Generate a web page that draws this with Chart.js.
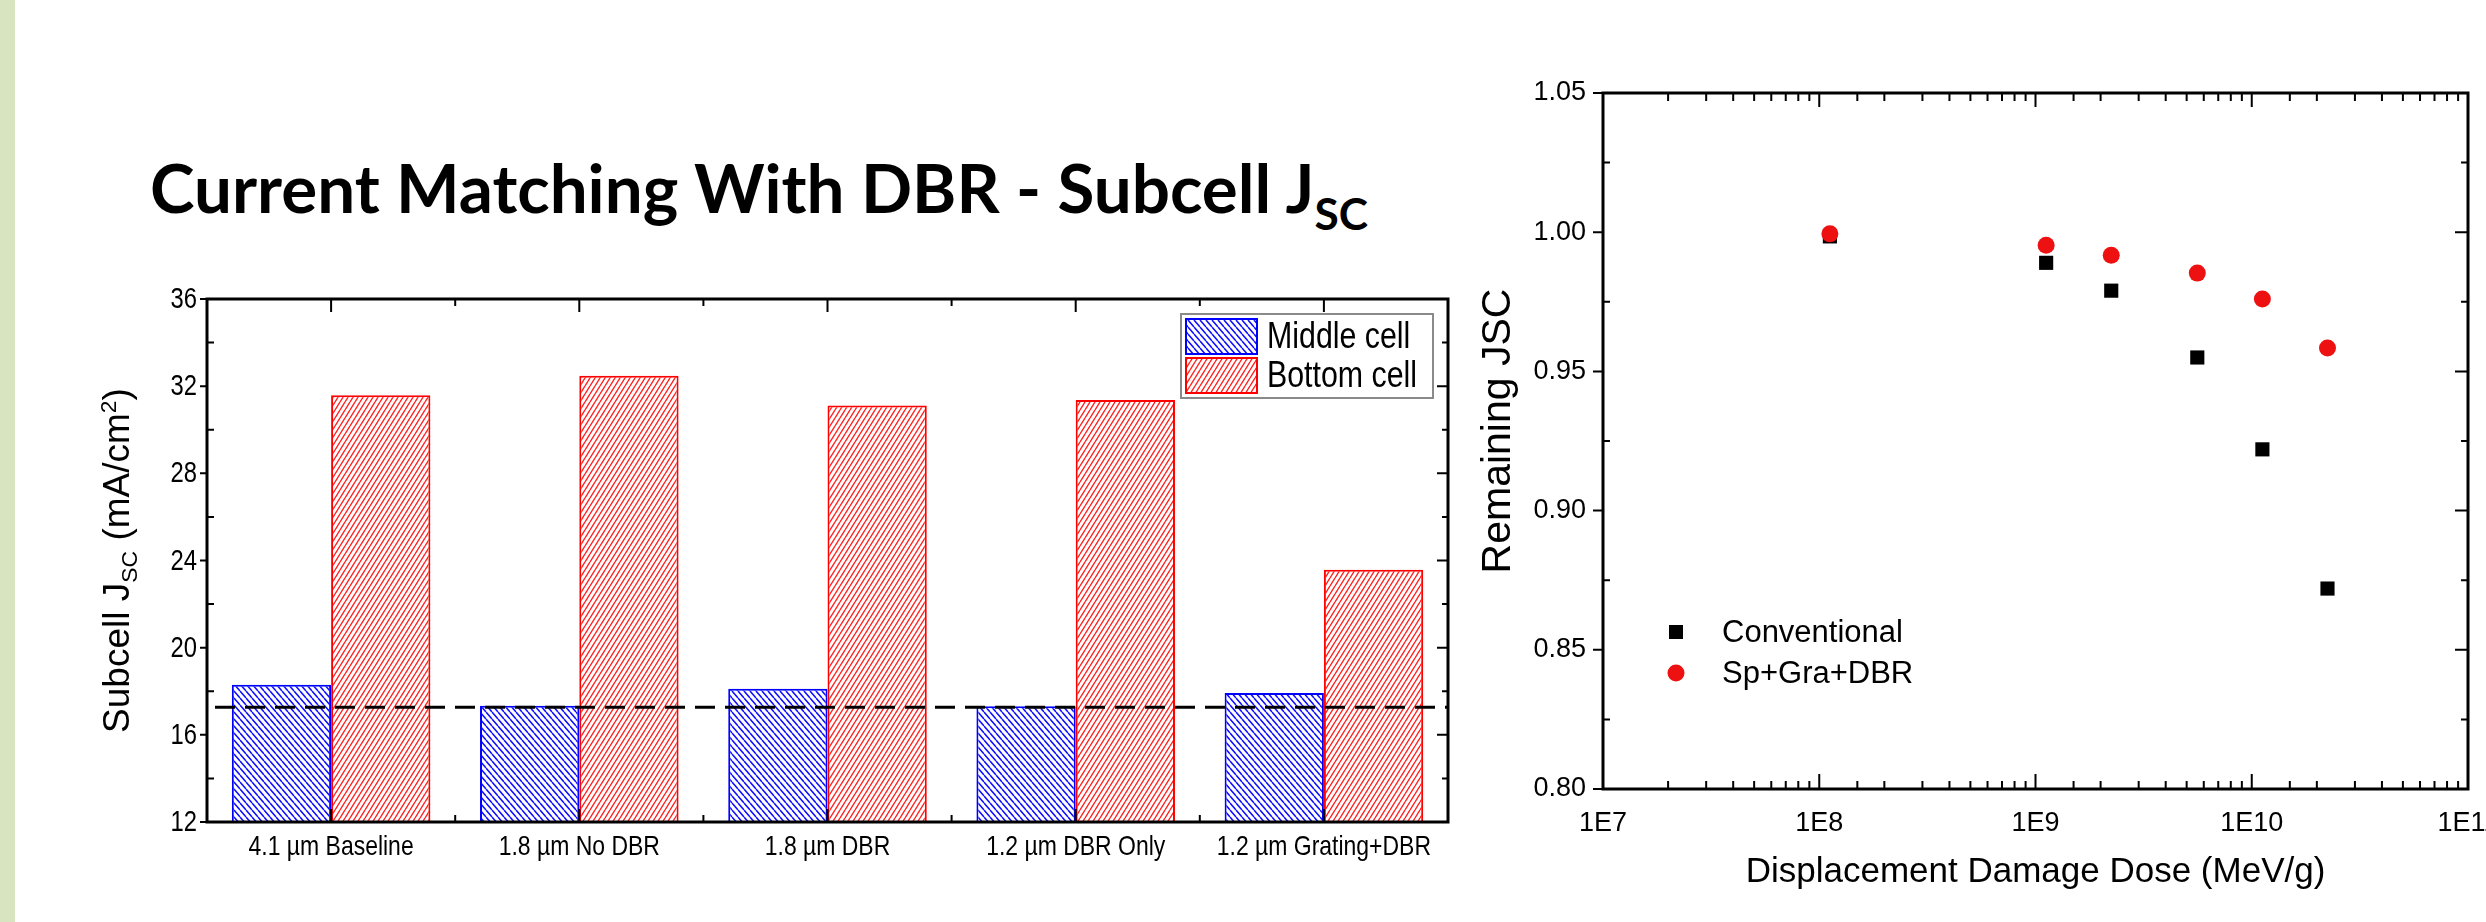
<!DOCTYPE html>
<html>
<head>
<meta charset="utf-8">
<script src="https://cdn.jsdelivr.net/npm/chart.js@4.4.0/dist/chart.umd.min.js"></script>
<style>
html,body{margin:0;padding:0;background:#fff;width:2486px;height:922px;overflow:hidden;position:relative;}
#strip{position:absolute;left:0;top:0;width:15px;height:922px;background:#d8e4bf;}
#title{position:absolute;left:150px;top:154px;font-family:Lato,'Open Sans',sans-serif;font-weight:700;font-size:67px;line-height:67px;white-space:nowrap;transform-origin:0 0;color:#000;}
#title .sub{font-size:44px;position:relative;top:17px;}
#w1{position:absolute;left:0;top:250px;width:1480px;height:672px;}
#w2{position:absolute;left:1420px;top:0;width:1106px;height:922px;}
canvas{display:block;}
</style>
</head>
<body>
<div id="strip"></div>
<div id="title">Current Matching With DBR - Subcell J<span class="sub">SC</span></div>
<div id="w1"><canvas id="c1" width="1480" height="672" style="width:1480px;height:672px"></canvas></div>
<div id="w2"><canvas id="c2" width="1106" height="922" style="width:1106px;height:922px"></canvas></div>
<script>
// ---------- data: left chart ----------
const categories = ['4.1 µm Baseline', '1.8 µm No DBR', '1.8 µm DBR', '1.2 µm DBR Only', '1.2 µm Grating+DBR'];
const middleCell = [18.30, 17.33, 18.12, 17.31, 17.92];
const bottomCell = [31.58, 32.48, 31.11, 31.36, 23.58];
const matchLevel = 17.27;
const jscMin = 12, jscMax = 36, jscStep = 4;

// ---------- data: right chart ----------
const doses = [1.12e8, 1.12e9, 2.24e9, 5.6e9, 1.12e10, 2.24e10];
const conventional = [0.9985, 0.989, 0.979, 0.955, 0.922, 0.872];
const spGraDbr = [0.9994, 0.9953, 0.9917, 0.9853, 0.976, 0.9584];
const doseMin = 1e7, doseMax = 1e11;
const remMin = 0.80, remMax = 1.05, remStep = 0.05;

const F = "'Liberation Sans', Arial, sans-serif";
const COND = 0.82; // horizontal condensing of left-chart text

// title width fit
(function(){
  const t = document.getElementById('title');
  const w = t.getBoundingClientRect().width;
  t.style.transform = 'scaleX(' + (1218 / w) + ')';
})();

function hatch(ctx, color, dir, p, q, lw) {
  const c = document.createElement('canvas');
  c.width = p; c.height = q;
  const g = c.getContext('2d');
  g.fillStyle = '#fff'; g.fillRect(0, 0, p, q);
  g.strokeStyle = color; g.lineWidth = lw;
  g.beginPath();
  for (let k = -1; k <= 1; k++) {
    if (dir === 'back') { g.moveTo(k * p, 0); g.lineTo(k * p + p, q); }
    else { g.moveTo(k * p, q); g.lineTo(k * p + p, 0); }
  }
  g.stroke();
  return ctx.createPattern(c, 'repeat');
}
function condText(ctx, text, x, y, size, align) {
  ctx.save();
  ctx.translate(x, y); ctx.scale(COND, 1);
  ctx.font = size + 'px ' + F; ctx.textAlign = align; ctx.textBaseline = 'middle'; ctx.fillStyle = '#000';
  ctx.fillText(text, 0, 0);
  ctx.restore();
}

const ctx1 = document.getElementById('c1').getContext('2d');
const blueHatch = hatch(ctx1, '#1010ff', 'back', 6, 7, 1.5);
const redHatch = hatch(ctx1, '#ff2020', 'fwd', 5, 8, 1.4);

const decor1 = {
  id: 'decor1',
  afterDatasetsDraw(chart) {
    const {ctx, chartArea: a, scales: {x, y}} = chart;
    ctx.save();
    // dashed current-matching line
    const yy = y.getPixelForValue(matchLevel);
    ctx.strokeStyle = '#000'; ctx.lineWidth = 3; ctx.setLineDash([20, 10]);
    ctx.beginPath(); ctx.moveTo(a.left + 8, yy); ctx.lineTo(a.right, yy); ctx.stroke();
    ctx.setLineDash([]);
    // ticks
    ctx.lineWidth = 2;
    ctx.beginPath();
    for (let v = jscMin; v <= jscMax + 1e-9; v += jscStep / 2) {
      const py = y.getPixelForValue(v);
      const major = Math.abs(((v - jscMin) / jscStep) - Math.round((v - jscMin) / jscStep)) < 1e-6;
      if (major) { ctx.moveTo(a.left - 7, py); ctx.lineTo(a.left, py); }
      else { ctx.moveTo(a.left, py); ctx.lineTo(a.left + 7, py); }
      const L = major ? 11 : 6;
      ctx.moveTo(a.right - L, py); ctx.lineTo(a.right, py);
    }
    for (let i = 0; i < categories.length; i++) {
      const px = x.getPixelForValue(i);
      ctx.moveTo(px, a.top); ctx.lineTo(px, a.top + 13);
      ctx.moveTo(px, a.bottom); ctx.lineTo(px, a.bottom - 13);
      if (i > 0) {
        const pb = (x.getPixelForValue(i - 1) + px) / 2;
        ctx.moveTo(pb, a.top); ctx.lineTo(pb, a.top + 7);
        ctx.moveTo(pb, a.bottom); ctx.lineTo(pb, a.bottom - 7);
      }
    }
    ctx.stroke();
    // frame
    ctx.lineWidth = 3; ctx.strokeStyle = '#000';
    ctx.strokeRect(a.left, a.top, a.right - a.left, a.bottom - a.top);
    // tick labels (condensed, from the library's scales)
    y.ticks.forEach(t => condText(ctx, String(t.label), a.left - 10, y.getPixelForValue(t.value) + 1, 29, 'right'));
    x.ticks.forEach(t => condText(ctx, String(t.label), x.getPixelForValue(t.value), a.bottom + 25, 28, 'center'));
    // legend
    const ds = chart.data.datasets;
    const bw = 252, bh = 84;
    const bx = a.right - 15 - bw, by = a.top + 15;
    ctx.fillStyle = '#fff'; ctx.fillRect(bx, by, bw, bh);
    ctx.strokeStyle = '#8a8a8a'; ctx.lineWidth = 2; ctx.strokeRect(bx, by, bw, bh);
    ds.forEach((d, i) => {
      const sx = bx + 5, sy = by + 5 + i * 39, sw = 71, sh = 35;
      ctx.fillStyle = d.backgroundColor; ctx.fillRect(sx, sy, sw, sh);
      ctx.strokeStyle = d.borderColor; ctx.lineWidth = 2; ctx.strokeRect(sx, sy, sw, sh);
      ctx.save();
      ctx.translate(bx + 86, sy + sh / 2 + 1); ctx.scale(COND, 1);
      ctx.fillStyle = '#000'; ctx.font = '37px ' + F; ctx.textBaseline = 'middle'; ctx.textAlign = 'left';
      ctx.fillText(d.label, 0, 0);
      ctx.restore();
    });
    // y axis title with sub/superscript
    ctx.save();
    ctx.translate(116, (a.top + a.bottom) / 2);
    ctx.rotate(-Math.PI / 2);
    const fs = 37;
    const parts = [['Subcell J', fs, 0], ['SC', fs * 0.62, 8], [' (mA/cm', fs, 0], ['2', fs * 0.62, -13], [')', fs, 0]];
    let total = 0;
    parts.forEach(p => { ctx.font = p[1] + 'px ' + F; total += ctx.measureText(p[0]).width; });
    let cx = -total / 2;
    ctx.fillStyle = '#000'; ctx.textBaseline = 'alphabetic'; ctx.textAlign = 'left';
    parts.forEach(p => { ctx.font = p[1] + 'px ' + F; ctx.fillText(p[0], cx, fs * 0.36 + p[2]); cx += ctx.measureText(p[0]).width; });
    ctx.restore();
    ctx.restore();
  }
};

new Chart(ctx1, {
  type: 'bar',
  data: {
    labels: categories,
    datasets: [
      {label: 'Middle cell', data: middleCell, backgroundColor: blueHatch, borderColor: '#0000ff', borderWidth: 2},
      {label: 'Bottom cell', data: bottomCell, backgroundColor: redHatch, borderColor: '#ff0000', borderWidth: 2}
    ]
  },
  options: {
    responsive: false, animation: false, events: [],
    layout: {padding: {top: 49, right: 32, left: 0, bottom: 0}},
    datasets: {bar: {categoryPercentage: 0.8, barPercentage: 1.0}},
    plugins: {legend: {display: false}, tooltip: {enabled: false}},
    scales: {
      x: {
        grid: {display: false, drawTicks: false}, border: {display: false},
        ticks: {display: false, autoSkip: false},
        afterFit(s) { s.height = 100; }
      },
      y: {
        min: jscMin, max: jscMax,
        grid: {display: false, drawTicks: false}, border: {display: false},
        ticks: {display: false, stepSize: jscStep},
        afterFit(s) { s.width = 207; }
      }
    }
  },
  plugins: [decor1]
});

// ---------- right chart ----------
const ctx2 = document.getElementById('c2').getContext('2d');
function isDecade(v) {
  const e = Math.round(Math.log10(v));
  return Math.abs(v / Math.pow(10, e) - 1) < 1e-6;
}
const decor2 = {
  id: 'decor2',
  afterDatasetsDraw(chart) {
    const {ctx, chartArea: a, scales: {x, y}} = chart;
    ctx.save();
    ctx.strokeStyle = '#000'; ctx.lineWidth = 2;
    ctx.beginPath();
    x.ticks.forEach(t => {
      const px = x.getPixelForValue(t.value);
      const L1 = isDecade(t.value) ? 15 : 8;
      const L2 = isDecade(t.value) ? 14 : 8;
      ctx.moveTo(px, a.bottom); ctx.lineTo(px, a.bottom - L1);
      ctx.moveTo(px, a.top); ctx.lineTo(px, a.top + L2);
    });
    const yt = y.ticks.map(t => t.value);
    yt.forEach((v, i) => {
      const py = y.getPixelForValue(v);
      ctx.moveTo(a.left - 10, py); ctx.lineTo(a.left, py);
      ctx.moveTo(a.right - 13, py); ctx.lineTo(a.right, py);
      if (i > 0) {
        const pm = y.getPixelForValue((v + yt[i - 1]) / 2);
        ctx.moveTo(a.left, pm); ctx.lineTo(a.left + 7, pm);
        ctx.moveTo(a.right - 7, pm); ctx.lineTo(a.right, pm);
      }
    });
    ctx.stroke();
    ctx.lineWidth = 3;
    ctx.strokeRect(a.left, a.top, a.right - a.left, a.bottom - a.top);
    // legend
    const ds = chart.data.datasets;
    ds.forEach((d, i) => {
      const cx = a.left + 73, cy = a.bottom - 157 + i * 41;
      ctx.fillStyle = d.backgroundColor;
      if (d.pointStyle === 'rect') { ctx.fillRect(cx - 7, cy - 7, 14, 14); }
      else { ctx.beginPath(); ctx.arc(cx, cy, d.pointRadius, 0, Math.PI * 2); ctx.fill(); }
      ctx.fillStyle = '#000'; ctx.font = '31px ' + F; ctx.textBaseline = 'middle'; ctx.textAlign = 'left';
      ctx.fillText(d.label, a.left + 119, cy + 1);
    });
    // axis titles
    ctx.fillStyle = '#000'; ctx.textAlign = 'center'; ctx.textBaseline = 'middle';
    ctx.font = '35px ' + F;
    ctx.fillText('Displacement Damage Dose (MeV/g)', (a.left + a.right) / 2, 872);
    ctx.save();
    ctx.translate(79, (a.top + a.bottom) / 2 - 10);
    ctx.rotate(-Math.PI / 2);
    ctx.font = '41px ' + F;
    ctx.fillText('Remaining JSC', 0, 0);
    ctx.restore();
    ctx.restore();
  }
};

new Chart(ctx2, {
  type: 'scatter',
  data: {
    datasets: [
      {label: 'Conventional', data: doses.map((d, i) => ({x: d, y: conventional[i]})),
       pointStyle: 'rect', pointRadius: 10, backgroundColor: '#000', borderColor: '#000', borderWidth: 0, order: 1},
      {label: 'Sp+Gra+DBR', data: doses.map((d, i) => ({x: d, y: spGraDbr[i]})),
       pointStyle: 'circle', pointRadius: 8.5, backgroundColor: '#ee1111', borderColor: '#ee1111', borderWidth: 0, order: 0}
    ]
  },
  options: {
    responsive: false, animation: false, events: [],
    layout: {padding: {top: 93, right: 58, left: 0, bottom: 0}},
    plugins: {legend: {display: false}, tooltip: {enabled: false}},
    scales: {
      x: {
        type: 'logarithmic', min: doseMin, max: doseMax,
        grid: {display: false, drawTicks: false}, border: {display: false},
        ticks: {font: {family: F, size: 27}, color: '#000', padding: 18, maxRotation: 0, autoSkip: false,
          callback(v) { return isDecade(v) ? '1E' + Math.round(Math.log10(v)) : ''; }},
        afterFit(s) { s.height = 133; }
      },
      y: {
        min: remMin, max: remMax,
        grid: {display: false, drawTicks: false}, border: {display: false},
        ticks: {stepSize: remStep, font: {family: F, size: 27}, color: '#000', padding: 17,
          callback(v) { return Number(v).toFixed(2); }},
        afterFit(s) { s.width = 183; }
      }
    }
  },
  plugins: [decor2]
});
</script>
</body>
</html>
